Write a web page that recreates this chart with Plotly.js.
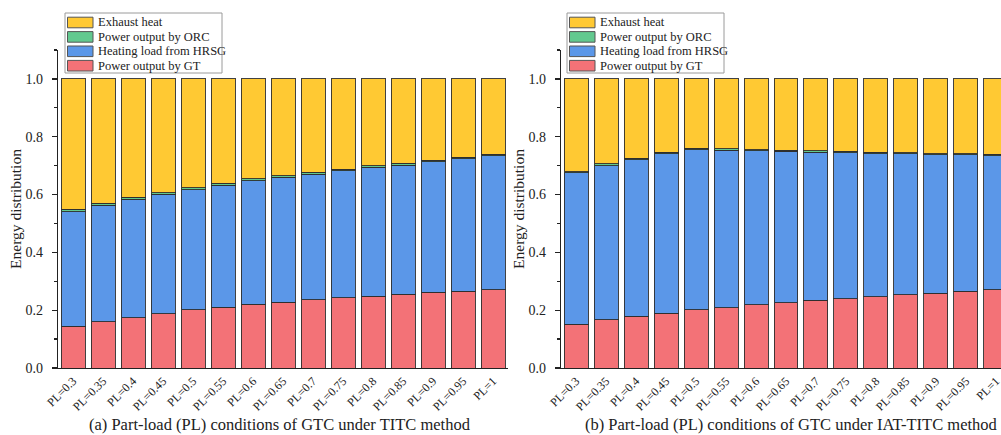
<!DOCTYPE html>
<html><head><meta charset="utf-8">
<script src="https://cdn.plot.ly/plotly-3.0.1.min.js"></script>
<style>html,body{margin:0;padding:0;background:#fff;overflow:hidden}#chart{width:1001px;height:435px}</style>
</head><body><div id="chart"></div>
<script>
const categories = ['PL=0.3','PL=0.35','PL=0.4','PL=0.45','PL=0.5','PL=0.55','PL=0.6','PL=0.65','PL=0.7','PL=0.75','PL=0.8','PL=0.85','PL=0.9','PL=0.95','PL=1'];

// (a) TITC method
const gtA      = [0.145,0.160,0.174,0.187,0.201,0.210,0.220,0.228,0.236,0.243,0.249,0.255,0.262,0.266,0.270];
const hrsgA    = [0.396,0.403,0.410,0.414,0.416,0.423,0.428,0.432,0.435,0.440,0.445,0.447,0.451,0.457,0.464];
const orcA     = [0.009,0.007,0.007,0.006,0.006,0.006,0.006,0.005,0.006,0.005,0.006,0.006,0.005,0.006,0.005];
const exhaustA = [0.450,0.430,0.409,0.393,0.377,0.361,0.346,0.335,0.323,0.312,0.300,0.292,0.282,0.271,0.261];

// (b) IAT-TITC method
const gtB      = [0.152,0.167,0.179,0.190,0.201,0.209,0.218,0.225,0.234,0.240,0.247,0.253,0.258,0.265,0.270];
const hrsgB    = [0.523,0.533,0.542,0.551,0.554,0.545,0.533,0.525,0.513,0.505,0.494,0.488,0.479,0.472,0.465];
const orcB     = [0.004,0.006,0.004,0.005,0.005,0.005,0.004,0.004,0.005,0.005,0.005,0.004,0.004,0.004,0.004];
const exhaustB = [0.321,0.294,0.275,0.254,0.240,0.241,0.245,0.246,0.248,0.250,0.254,0.255,0.259,0.259,0.261];

const seriesNames  = ['Power output by GT','Heating load from HRSG','Power output by ORC','Exhaust heat'];
const seriesColors = ['#F37277','#5B97E8','#62C98F','#FFC933'];
const captionA = '(a) Part-load (PL) conditions of GTC under TITC method';
const captionB = '(b) Part-load (PL) conditions of GTC under IAT-TITC method';
const yTitle = 'Energy distribution';

const W = 1001, H = 435;
const fx = p => p / W;
const fy = p => 1 - p / H;
const FONT = 'Liberation Serif, Times New Roman, serif';
const TXT = '#222';

const seriesA = [gtA, hrsgA, orcA, exhaustA];
const seriesB = [gtB, hrsgB, orcB, exhaustB];

const traces = [];
[[seriesA,'x','y'],[seriesB,'x2','y2']].forEach(([ser, xa, ya]) => {
  ser.forEach((vals, i) => {
    traces.push({
      type: 'bar', x: categories, y: vals, name: seriesNames[i],
      xaxis: xa, yaxis: ya, showlegend: false,
      marker: {color: seriesColors[i], line: {color: 'rgba(45,45,45,0.9)', width: 1}},
      hoverinfo: 'x+y+name'
    });
  });
});

// legends (drawn as boxes + text)
const shapes = [], annotations = [];
[65, 567].forEach(L => {
  shapes.push({type:'rect', xref:'paper', yref:'paper', x0:fx(L), x1:fx(L+157), y0:fy(73), y1:fy(13),
    line:{color:'#9a9a9a', width:1}, fillcolor:'#fff', layer:'above'});
  const order = [3,2,1,0];
  order.forEach((si, r) => {
    const cy = 22.5 + r * 14.4;
    shapes.push({type:'rect', xref:'paper', yref:'paper', x0:fx(L+2.5), x1:fx(L+28), y0:fy(cy+5.3), y1:fy(cy-5.3),
      line:{color:'#555', width:1}, fillcolor:seriesColors[si], layer:'above'});
    annotations.push({xref:'paper', yref:'paper', x:fx(L+31), y:fy(cy), xanchor:'left', yanchor:'middle',
      text:seriesNames[si], showarrow:false, font:{family:FONT, size:12.5, color:TXT}});
  });
});
annotations.push({xref:'paper', yref:'paper', x:fx(280), y:fy(424), xanchor:'center', yanchor:'middle',
  text:captionA, showarrow:false, font:{family:FONT, size:16.5, color:TXT}});
annotations.push({xref:'paper', yref:'paper', x:fx(791), y:fy(424), xanchor:'center', yanchor:'middle',
  text:captionB, showarrow:false, font:{family:FONT, size:16.5, color:TXT}});

const xBase = {
  type:'category', showline:true, linecolor:'#222', linewidth:1.3, ticks:'', showgrid:false, zeroline:false,
  tickangle:-45, tickfont:{family:FONT, size:12, color:TXT}, fixedrange:true
};
const yBase = {
  range:[0,1.1], tickmode:'linear', tick0:0, dtick:0.2, tickformat:'.1f',
  showline:true, linecolor:'#222', linewidth:1.3, ticks:'outside', ticklen:5, tickwidth:1.3, tickcolor:'#222',
  minor:{dtick:0.1, tick0:0, ticks:'outside', ticklen:3, tickwidth:1.2, tickcolor:'#222', showgrid:false},
  showgrid:false, zeroline:false, ticklabelstandoff:6,
  tickfont:{family:FONT, size:14, color:TXT}, fixedrange:true,
  title:{text:yTitle, font:{family:FONT, size:15.5, color:TXT}, standoff:0}
};

const layout = {
  width:W, height:H, margin:{l:0, r:0, t:0, b:0},
  paper_bgcolor:'#fff', plot_bgcolor:'#fff',
  font:{family:FONT, color:TXT},
  barmode:'stack', bargap:0.2,
  xaxis: Object.assign({}, xBase, {domain:[fx(58), fx(508)], range:[-0.5,14.5], anchor:'y'}),
  yaxis: Object.assign({}, yBase, {domain:[fy(368), fy(50)], anchor:'x'}),
  xaxis2: Object.assign({}, xBase, {domain:[fx(561), 1], range:[-0.5,14.167], anchor:'y2'}),
  yaxis2: Object.assign({}, yBase, {domain:[fy(368), fy(50)], anchor:'x2'}),
  shapes, annotations
};

Plotly.newPlot('chart', traces, layout, {displayModeBar:false, staticPlot:true});
</script></body></html>
